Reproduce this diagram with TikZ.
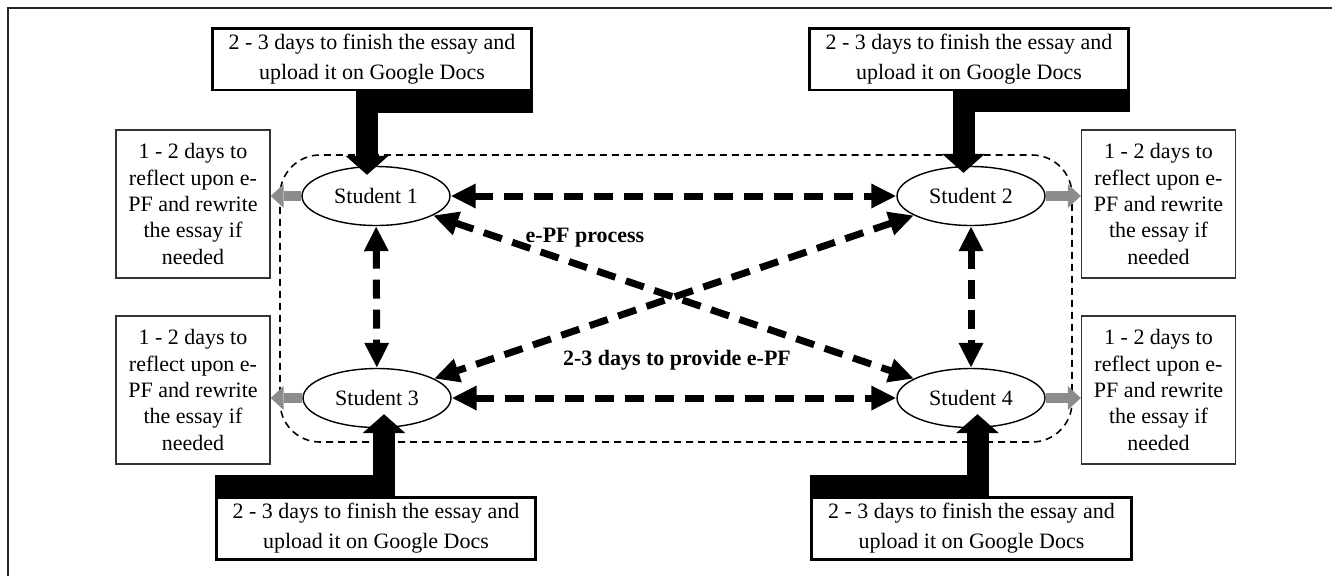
\documentclass[tikz,border=0pt]{standalone}
\usepackage{fontspec}
\setmainfont{Liberation Serif}
\usetikzlibrary{arrows.meta,shapes.geometric,calc}
\definecolor{arrowgray}{RGB}{140,140,140}
\begin{document}
\begin{tikzpicture}[x=0.02cm,y=-0.02cm,
  every node/.style={font=\fontsize{12.5pt}{15pt}\selectfont},
  student/.style={draw,ellipse,line width=0.8pt,minimum width=2.96cm,minimum height=1.18cm,inner sep=0pt},
  essaybox/.style={draw,line width=1.7pt,minimum width=6.4cm,minimum height=1.24cm,align=center,font=\fontsize{12.5pt}{17pt}\selectfont},
  reflectbox/.style={draw=black!80,line width=0.8pt,minimum width=3.08cm,minimum height=2.96cm,align=center},
  peer/.style={line width=0.14cm,dash pattern=on 0.38cm off 0.22cm,{Triangle[length=0.5cm,width=0.46cm]}-{Triangle[length=0.5cm,width=0.46cm]}},
  upload/.style={line width=0.44cm,-{Triangle[length=0.38cm,width=0.86cm,line width=0pt]}},
  revise/.style={line width=0.2cm,draw=arrowgray,-{Triangle[length=0.26cm,width=0.48cm,line width=0pt]}},
  steplabel/.style={font=\fontsize{12.5pt}{15pt}\selectfont\bfseries}]
\useasboundingbox (0,0) rectangle (1332,576);
\draw[line width=1.2pt,black!85] (8,576) -- (8,8) -- (1332,8);
% group of four students
\draw[line width=0.9pt,dash pattern=on 0.14cm off 0.1cm,rounded corners=0.8cm] (280,155) rectangle (1072,442);
\node[student] (s1) at (376,196) {Student 1};
\node[student] (s2) at (971,196) {Student 2};
\node[student] (s3) at (377,398) {Student 3};
\node[student] (s4) at (971,398) {Student 4};
% writing the essay
\node[essaybox] (tl) at (372,59) {2 - 3 days to finish the essay and\\upload it on Google Docs};
\node[essaybox] (tr) at (969,59) {2 - 3 days to finish the essay and\\upload it on Google Docs};
\node[essaybox] (bl) at (376,528.5) {2 - 3 days to finish the essay and\\upload it on Google Docs};
\node[essaybox] (br) at (971.5,528.5) {2 - 3 days to finish the essay and\\upload it on Google Docs};
% reflecting
\node[reflectbox] (l1) at (193,204) {1 - 2 days to\\reflect upon e-\\PF and rewrite\\the essay if\\needed};
\node[reflectbox] (r1) at (1158.5,204) {1 - 2 days to\\reflect upon e-\\PF and rewrite\\the essay if\\needed};
\node[reflectbox] (l2) at (193,390) {1 - 2 days to\\reflect upon e-\\PF and rewrite\\the essay if\\needed};
\node[reflectbox] (r2) at (1158.5,390) {1 - 2 days to\\reflect upon e-\\PF and rewrite\\the essay if\\needed};
\draw[upload] ($(tl.south east)+(0,11)$) -| ($(s1.north)+(-9,9)$);
\draw[upload] ($(tr.south east)+(0,10)$) -| ($(s2.north)+(-7.5,7)$);
\draw[upload] ($(bl.north west)+(0,-10)$) -| ($(s3.south)+(7,-14)$);
\draw[upload] ($(br.north west)+(0,-10)$) -| ($(s4.south)+(6.5,-14)$);
\draw[revise] (s1.west) -- (s1.west -| l1.east);
\draw[revise] (s3.west) -- (s3.west -| l2.east);
\draw[revise] (s2.east) -- (s2.east -| r1.west);
\draw[revise] (s4.east) -- (s4.east -| r2.west);
% e-PF between peers
\draw[peer] (s1) -- (s2);
\draw[peer] (s3) -- (s4);
\draw[peer] (s1) -- (s3);
\draw[peer] (s2) -- (s4);
\draw[peer] (s1) -- (s4);
\draw[peer] (s2) -- (s3);
\node[steplabel] (process) at (585,238) {e-PF process};
\node[steplabel] (provide) at (677,360) {2-3 days to provide e-PF};
\end{tikzpicture}
\end{document}
